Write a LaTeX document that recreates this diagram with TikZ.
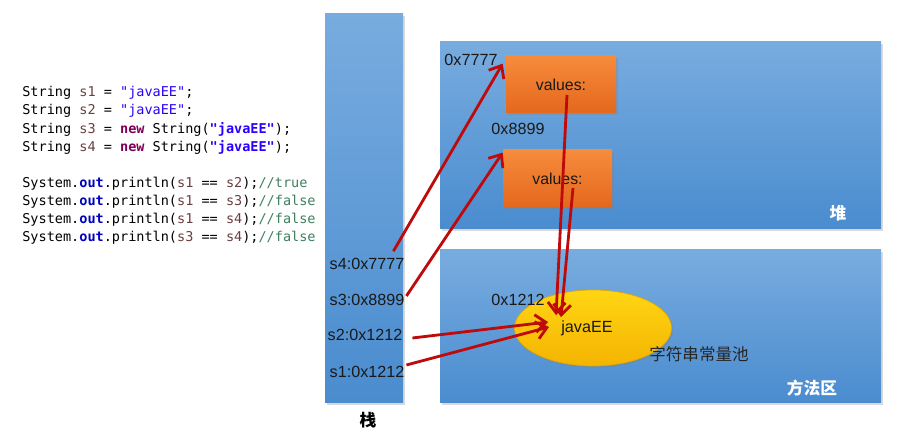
\documentclass[tikz,border=0pt]{standalone}
\usepackage{fontspec}
\setmainfont{Liberation Sans}
\setmonofont{DejaVu Sans Mono}
\newfontfamily\cjk{Noto Sans CJK SC}
\usepackage{xcolor}
\usepackage{tikz}
\usetikzlibrary{shapes.geometric,arrows.meta,shadows}
\definecolor{varc}{HTML}{6A3E3E}
\definecolor{strc}{HTML}{2A00FF}
\definecolor{kwc}{HTML}{7F0055}
\definecolor{fldc}{HTML}{0000C0}
\definecolor{cmtc}{HTML}{3F7F5F}
\definecolor{refc}{HTML}{BE0A0A}
\definecolor{areatop}{HTML}{78ACDF}
\definecolor{areabot}{HTML}{4A8CCF}
\definecolor{objtop}{HTML}{F78B3C}
\definecolor{objbot}{HTML}{E3681E}
\definecolor{pooltop}{HTML}{FFD614}
\definecolor{poolbot}{HTML}{F4B400}
\definecolor{poolline}{HTML}{E6A500}
\newcommand{\jvar}[1]{\textcolor{varc}{#1}}
\newcommand{\jstr}[1]{\textcolor{strc}{#1}}
\tikzset{area/.style={rectangle,inner sep=0pt,top color=areatop,bottom color=areabot,drop shadow={opacity=0.3,shadow xshift=1pt,shadow yshift=-1pt}},
    obj/.style={rectangle,inner sep=0pt,minimum width=2.2cm,minimum height=1.14cm,top color=objtop,bottom color=objbot,drop shadow={opacity=0.3,shadow xshift=1pt,shadow yshift=-1pt},font=\fontsize{9}{10}\selectfont,text=black!90},
    addr/.style={inner sep=1pt,font=\fontsize{9.2}{10}\selectfont,text=black!90},
    code/.style={anchor=west,inner sep=0pt,font=\ttfamily\fontsize{7.7}{9}\selectfont},
    ref/.style={->,draw=refc,line width=1.6pt}}

\begin{document}
\begin{tikzpicture}[>={Straight Barb[length=6pt,width=10pt]}]
    \useasboundingbox (0,0) rectangle (18.1,8.78);

    \node[code] (c1) at (0.44,6.92) {String \jvar{s1} = \jstr{"javaEE"};};
    \node[code] (c2) at (0.44,6.56) {String \jvar{s2} = \jstr{"javaEE"};};
    \node[code] (c3) at (0.44,6.20) {String \jvar{s3} = \textcolor{kwc}{\bfseries new} String(\jstr{\bfseries"javaEE"});};
    \node[code] (c4) at (0.44,5.84) {String \jvar{s4} = \textcolor{kwc}{\bfseries new} String(\jstr{\bfseries"javaEE"});};
    \node[code] (c5) at (0.44,5.10) {System.\textcolor{fldc}{\bfseries out}.println(\jvar{s1} == \jvar{s2});\textcolor{cmtc}{//true}};
    \node[code] (c6) at (0.44,4.74) {System.\textcolor{fldc}{\bfseries out}.println(\jvar{s1} == \jvar{s3});\textcolor{cmtc}{//false}};
    \node[code] (c7) at (0.44,4.38) {System.\textcolor{fldc}{\bfseries out}.println(\jvar{s1} == \jvar{s4});\textcolor{cmtc}{//false}};
    \node[code] (c8) at (0.44,4.02) {System.\textcolor{fldc}{\bfseries out}.println(\jvar{s3} == \jvar{s4});\textcolor{cmtc}{//false}};

    \node[area,minimum width=1.56cm,minimum height=7.78cm] (stack) at (7.28,4.61) {};
    \node[area,minimum width=8.82cm,minimum height=3.74cm] (heap) at (13.21,6.07) {};
    \node[area,minimum width=8.82cm,minimum height=3.06cm] (method) at (13.21,2.25) {};

    \node[font=\cjk\bfseries\fontsize{9.5}{10}\selectfont] (stackname) at (7.36,0.38) {栈};
    \node[font=\cjk\bfseries\fontsize{9.5}{10}\selectfont,text=white] (heapname) at (16.76,4.52) {堆};
    \node[font=\cjk\bfseries\fontsize{9.5}{10}\selectfont,text=white] (methodname) at (16.24,1.02) {方法区};

    \node[obj] (valA) at (11.22,7.09) {values:};
    \node[obj,minimum width=2.18cm] (valB) at (11.15,5.21) {values:};
    \node[ellipse,inner sep=0pt,minimum width=3.14cm,minimum height=1.52cm,top color=pooltop,bottom color=poolbot,draw=poolline,drop shadow={opacity=0.3,shadow xshift=1pt,shadow yshift=-1pt}] (pool) at (11.86,2.22) {};
    \node[addr,inner sep=0pt] (java) at (11.74,2.22) {javaEE};
    \node[font=\cjk\fontsize{9.4}{10}\selectfont,text=black!85] (poolname) at (13.98,1.70) {字符串常量池};

    \node[addr] (a7777) at (9.42,7.58) {0x7777};
    \node[addr] (a8899) at (10.36,6.20) {0x8899};
    \node[addr] (a1212) at (10.36,2.78) {0x1212};

    \node[addr] (s4) at (7.34,3.50) {s4:0x7777};
    \node[addr] (s3) at (7.34,2.78) {s3:0x8899};
    \node[addr] (s2) at (7.30,2.08) {s2:0x1212};
    \node[addr] (s1) at (7.34,1.34) {s1:0x1212};

    \draw[ref] ([shift={(-0.26,0.1)}]s4.north east) -- ([shift={(-0.06,-0.16)}]valA.north west);
    \draw[ref] ([yshift=0.08cm]s3.east) -- ([yshift=-0.06cm]valB.north west);
    \draw[ref] ([shift={(0.16,-0.06)}]s2.east) -- ([shift={(-0.26,0.12)}]java.west);
    \draw[ref] ([yshift=0.14cm]s1.east) -- ([shift={(-0.24,0.02)}]java.west);
    \draw[ref] ([shift={(0.12,-0.21)}]valA.center) -- ([shift={(-0.1,0.1)}]java.north west);
    \draw[ref] ([shift={(0.31,-0.19)}]valB.center) -- ([yshift=0.06cm]java.north west);
\end{tikzpicture}
\end{document}
